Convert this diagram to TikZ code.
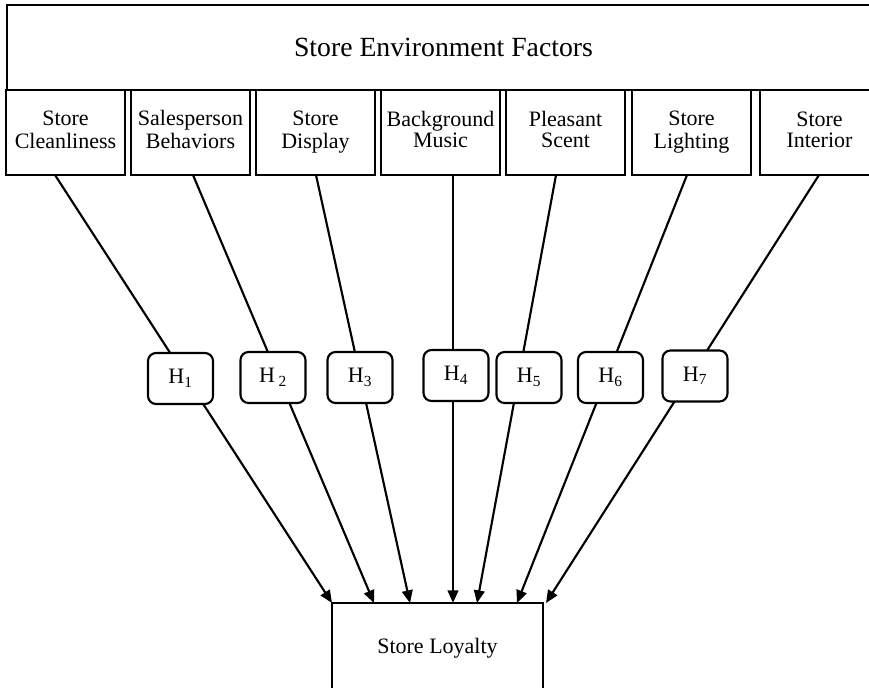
\documentclass[tikz,border=0pt]{standalone}
\usepackage{fontspec}
\setmainfont{Liberation Serif}
\usetikzlibrary{arrows.meta,calc}
\begin{document}
\begin{tikzpicture}[x=0.75pt,y=-0.75pt,
  frame/.style={draw, line width=1.6pt, inner sep=0pt, outer sep=0pt},
  factor/.style={frame, minimum width=89.25pt, minimum height=63.75pt, align=center, font=\fontsize{16.5}{15.8}\selectfont},
  hyp/.style={frame, fill=white, rounded corners=6pt, minimum width=48.75pt, minimum height=38.25pt, font=\fontsize{16.5}{18}\selectfont},
  link/.style={line width=1.6pt},
  arr/.style={link, -{Triangle[length=9.5pt,width=8pt]}}
]
\useasboundingbox (0,0) rectangle (869,687);
\clip (0,0) rectangle (869,687);
\fill[white] (0,0) rectangle (869,687);

% top box
\node[frame, minimum width=654.75pt, minimum height=63.75pt, font=\fontsize{20.8}{24}\selectfont] (top) at (443.5,47.5) {Store Environment Factors};

% factor boxes
\node[factor] (b1) at (65.5,132.5) {Store\strut\\Cleanliness\strut};
\node[factor] (b2) at (190.5,132.5) {Salesperson\strut\\Behaviors\strut};
\node[factor] (b3) at (315.5,132.5) {Store\strut\\Display\strut};
\node[factor] (b4) at (440.5,132.5) {Background\strut\\Music\strut};
\node[factor] (b5) at (565.5,132.5) {Pleasant\strut\\Scent\strut};
\node[factor] (b6) at (691.5,132.5) {Store\strut\\Lighting\strut};
\node[factor] (b7) at (819.5,132.5) {Store\strut\\Interior\strut};

% outcome box
\node[frame, minimum width=158.25pt, minimum height=67.5pt, font=\fontsize{16.5}{18}\selectfont] (L) at (437.5,648) {Store Loyalty};

% connector ends
\coordinate (s1) at ($(b1.south)+(-10.5,0)$);
\coordinate (s2) at ($(b2.south)+(2.5,0)$);
\coordinate (s3) at ($(b3.south)+(0.5,0)$);
\coordinate (s4) at ($(b4.south)+(12.5,0)$);
\coordinate (s5) at ($(b5.south)+(-9.5,0)$);
\coordinate (s6) at ($(b6.south)+(-4.5,0)$);
\coordinate (s7) at ($(b7.south)+(-0.5,0)$);
\coordinate (e1) at ($(L.north west)+(0,0)$);
\coordinate (e2) at ($(L.north west)+(42,0)$);
\coordinate (e3) at ($(L.north west)+(78,0)$);
\coordinate (e4) at ($(L.north west)+(121,0)$);
\coordinate (e5) at ($(L.north west)+(145,0)$);
\coordinate (e6) at ($(L.north west)+(185,0)$);
\coordinate (e7) at ($(L.north west)+(214,0)$);

\foreach \i in {1,...,7} {\draw[arr] (s\i) -- (e\i);}

% hypothesis boxes
\node[hyp] (h1) at (180.5,378.5) {H\textsubscript{1}};
\node[hyp] (h2) at (273,377.5) {H\,\textsubscript{2}};
\node[hyp] (h3) at (360,377.5) {H\textsubscript{3}};
\node[hyp] (h4) at (456,375.5) {H\textsubscript{4}};
\node[hyp] (h5) at (529,377.5) {H\textsubscript{5}};
\node[hyp] (h6) at (610.5,377.5) {H\textsubscript{6}};
\node[hyp] (h7) at (695,376) {H\textsubscript{7}};
\end{tikzpicture}
\end{document}
